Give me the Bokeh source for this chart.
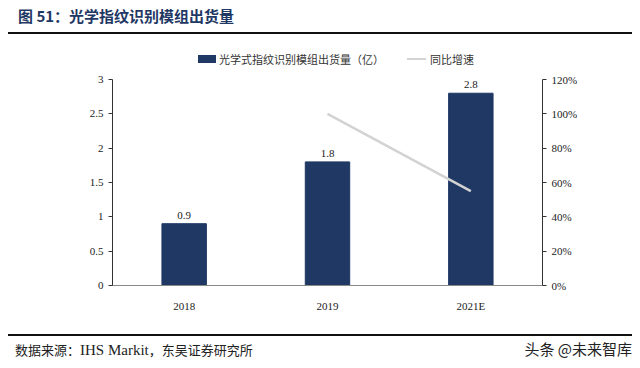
from bokeh.plotting import figure
from bokeh.models import (Range1d, LinearAxis, FixedTicker, NumeralTickFormatter,
                          ColumnDataSource, FactorRange, Div)
from bokeh.layouts import column
from bokeh.embed import file_html
from bokeh.resources import INLINE
import numpy as np

years = ["2018", "2019", "2021E"]
shipments = [0.9, 1.8, 2.8]
growth = [np.nan, 1.00, 0.55]
left_ticks = [0, 0.5, 1, 1.5, 2, 2.5, 3]
right_ticks = [0, 0.2, 0.4, 0.6, 0.8, 1.0, 1.2]

title_text = "图 51：光学指纹识别模组出货量"
bar_name = "光学式指纹识别模组出货量（亿）"
line_name = "同比增速"
source_cn1 = "数据来源："
source_en = "IHS Markit"
source_cn2 = "，东吴证券研究所"
mark_text = "头条 @未来智库"

NAVY = "#1f3864"
GRAY_LINE = "#d3d3d3"
SERIF = "Liberation Serif"
CJK = "Noto Sans CJK SC"

W = 640
FL, FR = 112, 542          # frame left/right (page px)
FIG_TOP, FIG_H = 72, 256   # figure placement
FT, FB = 79, 285           # frame top/bottom (page px)

title_div = Div(width=W, height=40, margin=0, text=f"""
<div style="position:relative;width:{W}px;height:40px;">
  <div style="position:absolute;left:18px;top:5px;font-family:'{CJK}';font-size:15px;
       font-weight:bold;color:{NAVY};white-space:nowrap;line-height:22px;">{title_text}</div>
  <div style="position:absolute;left:8px;top:32px;width:624px;height:2px;background:#111;"></div>
</div>""")

legend_div = Div(width=W, height=FIG_TOP - 40, margin=0, text=f"""
<div style="position:relative;width:{W}px;height:{FIG_TOP - 40}px;">
  <div style="position:absolute;left:198px;top:15px;width:18px;height:8px;background:{NAVY};"></div>
  <div style="position:absolute;left:219px;top:11px;font-family:'{CJK}';font-size:11px;
       color:#333;white-space:nowrap;line-height:16px;">{bar_name}</div>
  <div style="position:absolute;left:407px;top:18px;width:19px;height:2px;background:{GRAY_LINE};"></div>
  <div style="position:absolute;left:430px;top:11px;font-family:'{CJK}';font-size:11px;
       color:#333;white-space:nowrap;line-height:16px;">{line_name}</div>
</div>""")

p = figure(width=W, height=FIG_H, x_range=FactorRange(*years, range_padding=0),
           y_range=Range1d(0, 3), output_backend="svg", toolbar_location=None,
           min_border_left=FL, min_border_right=W - FR,
           min_border_top=FT - FIG_TOP, min_border_bottom=FIG_TOP + FIG_H - FB,
           margin=0)
p.outline_line_color = None
p.xgrid.grid_line_color = None
p.ygrid.grid_line_color = None

src = ColumnDataSource(dict(x=years, y=shipments, g=growth,
                            lbl=[f"{v:g}" for v in shipments]))
p.vbar(x="x", top="y", width=0.31, color=NAVY, source=src)
p.text(x="x", y="y", text="lbl", source=src, text_align="center",
       text_baseline="bottom", y_offset=-5, text_font_size="11px",
       text_font={"value": SERIF}, text_color="#222222")

p.extra_y_ranges = {"pct": Range1d(0, 1.2)}
p.line(x="x", y="g", source=src, y_range_name="pct", line_color=GRAY_LINE,
       line_width=2.5)

ax = p.yaxis[0]
ax.ticker = FixedTicker(ticks=left_ticks)
rax = LinearAxis(y_range_name="pct", ticker=FixedTicker(ticks=right_ticks),
                 formatter=NumeralTickFormatter(format="0%"))
p.add_layout(rax, "right")
for a in (ax, rax):
    a.axis_line_color = "#333333"
    a.major_tick_line_color = "#333333"
    a.major_tick_in = 0
    a.major_tick_out = 4
    a.minor_tick_line_color = None
    a.major_label_text_font = SERIF
    a.major_label_text_font_size = "11px"
    a.major_label_text_color = "#222222"

bx = p.xaxis[0]
bx.axis_line_color = "#888888"
bx.major_tick_line_color = None
bx.minor_tick_line_color = None
bx.major_label_text_font = SERIF
bx.major_label_text_font_size = "11px"
bx.major_label_text_color = "#222222"
bx.major_label_standoff = 8

FOOT_H = 368 - FIG_TOP - FIG_H
footer_div = Div(width=W, height=FOOT_H, margin=0, text=f"""
<div style="position:relative;width:{W}px;height:{FOOT_H}px;">
  <div style="position:absolute;left:8px;top:6px;width:624px;height:1.5px;background:#111;"></div>
  <div style="position:absolute;left:15px;top:13px;font-size:13px;color:#222;
       white-space:nowrap;line-height:18px;font-family:'{CJK}';">{source_cn1}<span
       style="font-family:'{SERIF}';font-size:15px;">{source_en}</span>{source_cn2}</div>
  <div style="position:absolute;right:8px;top:11px;font-family:'{CJK}';font-size:15px;
       color:#222;white-space:nowrap;line-height:20px;">{mark_text}</div>
</div>""")

layout = column(title_div, legend_div, p, footer_div, spacing=0, margin=0)
open("out.html", "w").write(file_html(layout, INLINE))
